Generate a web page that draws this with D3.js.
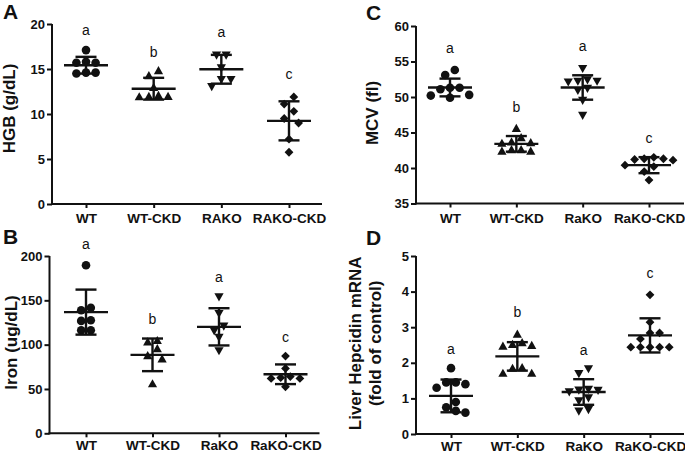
<!DOCTYPE html>
<html>
<head>
<meta charset="utf-8">
<script src="https://cdn.jsdelivr.net/npm/d3@7"></script>
<style>
  html, body { margin: 0; padding: 0; background: #fff; }
  svg { display: block; }
  text { font-family: "Liberation Sans", Arial, Helvetica, sans-serif; fill: #111; }
</style>
</head>
<body>
<svg id="chart" width="685" height="453"></svg>
<script>
// ---------------- DATA ----------------
const categoriesA = ["WT", "WT-CKD", "RAKO", "RAKO-CKD"];
const categoriesBCD = ["WT", "WT-CKD", "RaKO", "RaKO-CKD"];

// Panel A: HGB (g/dL)
const hgbTicks = [0, 5, 10, 15, 20];
const hgbValues = [
  [17.1, 15.7, 15.7, 15.8, 14.6, 14.5, 14.6],
  [14.75, 14.2, 12.9, 11.9, 11.85, 11.9, 12.0],
  [16.6, 16.6, 15.2, 13.9, 13.9, 13.1],
  [11.9, 11.1, 10.3, 9.5, 9.0, 7.2, 5.75]
];
const hgbMean = [15.42, 12.81, 14.97, 9.24];
const hgbSD = [0.93, 1.21, 1.6, 2.17];
const hgbLetters = ["a", "b", "a", "c"];
const hgbLetterAt = [18.77, 16.35, 18.58, 13.93];

// Panel B: Iron (ug/dL)
const ironTicks = [0, 50, 100, 150, 200];
const ironValues = [
  [189.5, 141.5, 138.8, 126.8, 127.6, 116.3, 116.3],
  [104, 102.4, 94.9, 87, 83.3, 55.2],
  [154.6, 135.8, 121.5, 116.3, 108.8, 93.8],
  [87.1, 73.2, 61.9, 52.5, 61.9, 62.7, 64.0]
];
const ironMean = [136.7, 88.5, 120.1, 66.6];
const ironSD = [25.4, 18.4, 21.0, 11.1];
const ironLetters = ["a", "b", "a", "c"];
const ironLetterAt = [207.5, 123.1, 170.7, 103.2];

// Panel C: MCV (fl)
const mcvTicks = [35, 40, 45, 50, 55, 60];
const mcvValues = [
  [53.8, 53.1, 51.1, 51.3, 51.3, 50.3, 49.9, 50.2],
  [45.5, 44.2, 43.5, 43.4, 43.6, 42.5, 42.3, 42.3, 42.5],
  [54.1, 52.3, 52.2, 52.5, 52.3, 51.3, 51.0, 49.6, 47.5],
  [41.5, 41.3, 41.2, 41.1, 41.3, 40.4, 39.5, 38.3, 40.2]
];
const mcvMean = [51.34, 43.4, 51.34, 40.4];
const mcvSD = [1.25, 1.1, 1.72, 1.13];
const mcvLetters = ["a", "b", "a", "c"];
const mcvLetterAt = [56.14, 47.9, 56.5, 43.5];

// Panel D: Liver Hepcidin mRNA (fold of control)
const hepTicks = [0, 1, 2, 3, 4, 5];
const hepValues = [
  [1.85, 1.45, 1.45, 1.4, 1.3, 0.9, 0.65, 0.6, 0.75],
  [2.79, 2.5, 2.45, 2.55, 2.47, 1.83, 1.69, 1.69, 1.85],
  [1.85, 1.71, 1.25, 1.2, 1.27, 1.24, 1.03, 0.95, 0.7, 0.66],
  [3.91, 3.14, 2.84, 2.84, 2.67, 2.44, 2.44, 2.44, 2.44, 2.44]
];
const hepMean = [1.07, 2.18, 1.18, 2.77];
const hepSD = [0.46, 0.4, 0.36, 0.48];
const hepLetters = ["a", "b", "a", "c"];
const hepLetterAt = [2.25, 3.28, 2.23, 4.38];

// ---------------- DRAWING ----------------
const svg = d3.select("#chart");
const INK = "#111";
const FONT = "Liberation Sans, Arial, sans-serif";

const markerPath = [
  () => d3.symbol().type(d3.symbolCircle).size(Math.PI * 4.3 * 4.3)(),
  () => "M0,-5.2L4.6,3L-4.6,3Z",
  () => "M0,5.2L4.6,-3L-4.6,-3Z",
  () => "M0,-4.4L4.4,0L0,4.4L-4.4,0Z"
];

// row-based scatter layout: near-equal values share a centred row,
// rows avoid overlapping markers already placed
function rowLayout(values, cx, y) {
  const step = 9.6, rowTol = 8, minD = 7.5;
  const idx = values.map((v, i) => i).sort((a, b) => values[b] - values[a]);
  const rows = [];
  idx.forEach(i => {
    const py = y(values[i]);
    const last = rows[rows.length - 1];
    if (last && Math.abs(py - last.y0) < rowTol) last.items.push(i);
    else rows.push({ y0: py, items: [i] });
  });
  const out = new Array(values.length);
  const placed = [];
  rows.forEach(r => {
    const n = r.items.length;
    const half = n % 2 === 0 ? 0.5 : 0;
    const slots = [];
    for (let k = 0; k < 12; k++) {
      const o = (k + half) * step;
      if (o === 0) slots.push(0); else { slots.push(o); slots.push(-o); }
    }
    const used = [];
    r.items.forEach(i => {
      const py = y(values[i]);
      for (const o of slots) {
        if (used.includes(o)) continue;
        const px = cx + o;
        if (placed.every(p => Math.hypot(p[0] - px, p[1] - py) >= minD)) {
          used.push(o); out[i] = [px, py]; break;
        }
      }
      if (!out[i]) out[i] = [cx, py];
      placed.push(out[i]);
    });
  });
  return out;
}

function panel(cfg) {
  const g = svg.append("g");
  const y = d3.scaleLinear().domain(cfg.domain).range([cfg.y0, cfg.yTop]);
  const x = d3.scalePoint().domain(cfg.cats).range([cfg.c0, cfg.c1]);

  const yAxis = d3.axisLeft(y).tickValues(cfg.ticks).tickFormat(d3.format("d"))
    .tickSize(5).tickPadding(2).tickSizeOuter(0);
  const ga = g.append("g").attr("transform", `translate(${cfg.x0},0)`).call(yAxis);
  ga.select(".domain").attr("stroke", INK).attr("stroke-width", 2)
    .attr("d", `M0,${cfg.y0 + 1}V${cfg.yTop}`);
  ga.selectAll(".tick line").attr("stroke", INK).attr("stroke-width", 2);
  ga.selectAll(".tick text").attr("font-size", 13).attr("font-weight", "bold").attr("fill", INK)
    .attr("font-family", FONT);

  const xAxis = d3.axisBottom(x).tickSize(4).tickPadding(3).tickSizeOuter(0);
  const gx = g.append("g").attr("transform", `translate(0,${cfg.y0})`).call(xAxis);
  gx.select(".domain").attr("stroke", INK).attr("stroke-width", 2)
    .attr("d", `M${cfg.x0 - 1},0H${cfg.x1}`);
  gx.selectAll(".tick line").attr("stroke", INK).attr("stroke-width", 2);
  gx.selectAll(".tick text").attr("font-size", 13.5).attr("font-weight", "bold").attr("fill", INK)
    .attr("font-family", FONT)
    .attr("dy", null).attr("y", cfg.labelDy);

  cfg.values.forEach((vals, gi) => {
    const cx = x(cfg.cats[gi]);
    const pts = rowLayout(vals, cx, y);
    g.append("g").selectAll("path").data(pts).join("path")
      .attr("d", markerPath[gi]())
      .attr("transform", d => `translate(${d[0]},${d[1]})`)
      .attr("fill", INK);

    const m = cfg.mean[gi], s = cfg.sd[gi];
    const eb = g.append("g").attr("stroke", INK).attr("stroke-width", 2.4).attr("fill", "none");
    eb.append("line").attr("x1", cx - 22).attr("x2", cx + 22).attr("y1", y(m)).attr("y2", y(m));
    eb.append("line").attr("x1", cx).attr("x2", cx).attr("y1", y(m + s)).attr("y2", y(m - s));
    eb.append("line").attr("x1", cx - 10.5).attr("x2", cx + 10.5).attr("y1", y(m + s)).attr("y2", y(m + s));
    eb.append("line").attr("x1", cx - 10.5).attr("x2", cx + 10.5).attr("y1", y(m - s)).attr("y2", y(m - s));

    g.append("text").attr("x", cx).attr("y", y(cfg.letterAt[gi]))
      .attr("text-anchor", "middle").attr("font-size", 14)
      .text(cfg.letters[gi]);
  });

  cfg.title.forEach((t, i) => {
    g.append("text")
      .attr("transform", `translate(${cfg.titleX[i]},${cfg.titleY}) rotate(-90)`)
      .attr("text-anchor", "middle").attr("font-size", 17).attr("font-weight", "bold")
      .text(t);
  });

  g.append("text").attr("x", cfg.tagX).attr("y", cfg.tagY)
    .attr("font-size", 21).attr("font-weight", "bold").text(cfg.tag);
}

panel({
  tag: "A", tagX: 3, tagY: 19,
  cats: categoriesA, ticks: hgbTicks, domain: [0, 20],
  values: hgbValues, mean: hgbMean, sd: hgbSD, letters: hgbLetters, letterAt: hgbLetterAt,
  x0: 52, x1: 322, c0: 86, c1: 289, yTop: 24, y0: 204, labelDy: 19,
  title: ["HGB (g/dL)"], titleX: [15], titleY: 108.5
});
panel({
  tag: "B", tagX: 3, tagY: 244,
  cats: categoriesBCD, ticks: ironTicks, domain: [0, 200],
  values: ironValues, mean: ironMean, sd: ironSD, letters: ironLetters, letterAt: ironLetterAt,
  x0: 49.5, x1: 319.5, c0: 86, c1: 285.5, yTop: 256, y0: 433.3, labelDy: 17,
  title: ["Iron (ug/dL)"], titleX: [16.5], titleY: 342.5
});
panel({
  tag: "C", tagX: 366, tagY: 20,
  cats: categoriesBCD, ticks: mcvTicks, domain: [35, 60],
  values: mcvValues, mean: mcvMean, sd: mcvSD, letters: mcvLetters, letterAt: mcvLetterAt,
  x0: 416, x1: 684, c0: 450, c1: 649, yTop: 26, y0: 203.5, labelDy: 19.5,
  title: ["MCV (fl)"], titleX: [377.5], titleY: 113
});
panel({
  tag: "D", tagX: 366, tagY: 245,
  cats: categoriesBCD, ticks: hepTicks, domain: [0, 5],
  values: hepValues, mean: hepMean, sd: hepSD, letters: hepLetters, letterAt: hepLetterAt,
  x0: 416, x1: 684, c0: 451, c1: 650, yTop: 256, y0: 434, labelDy: 17,
  title: ["Liver Hepcidin mRNA", "(fold of control)"], titleX: [360.5, 380.5], titleY: 343.3
});
</script>
</body>
</html>
